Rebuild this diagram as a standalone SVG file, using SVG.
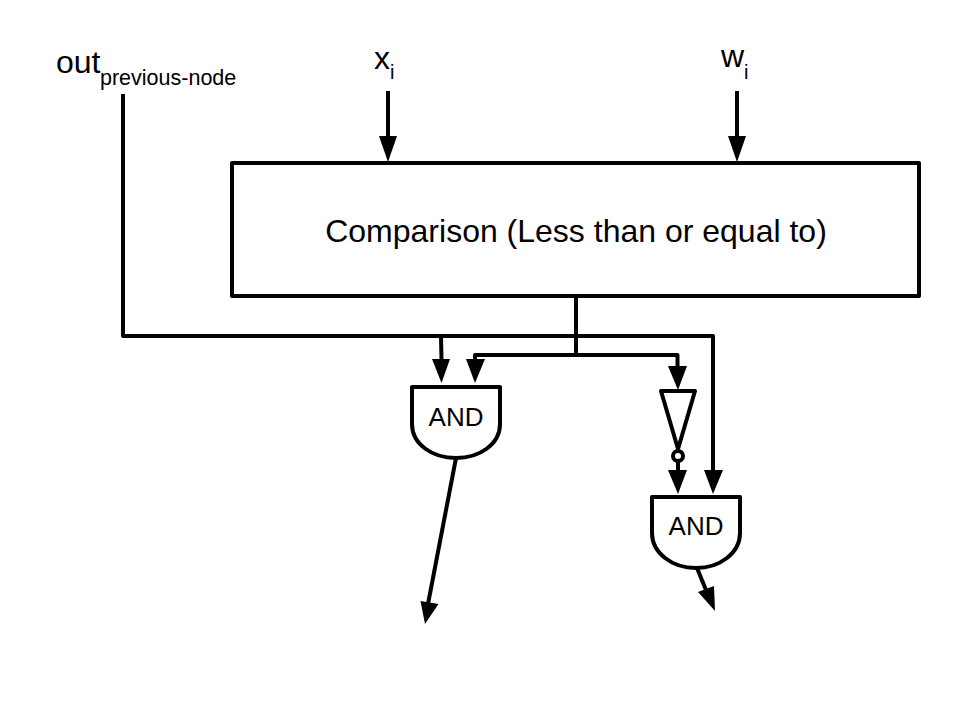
<svg xmlns="http://www.w3.org/2000/svg" width="960" height="720" viewBox="0 0 960 720">
<style>
text{font-family:"Liberation Sans",Arial,sans-serif;fill:#000}
.s{fill:none;stroke:#000;stroke-width:4;stroke-linejoin:round;stroke-linecap:butt}
.g{fill:#fff;stroke:#000;stroke-width:4;stroke-linejoin:round}
.a{fill:#000;stroke:none}
.l{font-size:32px}
.u{font-size:21.500px}
.i{font-size:20px}
.n{font-size:26px;text-anchor:middle}
</style>
<rect width="960" height="720" fill="#fff"/>
<g id="connectors">
<path class="s" d="M123 94V336H713V470"/>
<path class="s" d="M388 91V140"/>
<path class="s" d="M737 91V140"/>
<path class="s" d="M576 297V354"/>
<path class="s" d="M441 336L441.500 360"/>
<path class="s" d="M475 362V355H677.500V372"/>
<path class="s" d="M678 461V472"/>
<path class="s" d="M456 458L428 604"/>
<path class="s" d="M697 568L706 590"/>
<polygon class="a" points="379,136 397,136 388,162"/>
<polygon class="a" points="728,136 746,136 737,162"/>
<polygon class="a" points="432,359 450,359 441.500,383"/>
<polygon class="a" points="466,359 485,359 475,383"/>
<polygon class="a" points="668,366 687,366 678,390"/>
<polygon class="a" points="668,470 687,470 678,494"/>
<polygon class="a" points="704,470 723,470 713,494"/>
<polygon class="a" points="420.500,601 438.500,604 425,624"/>
<polygon class="a" points="698,592 714,586 715,611"/>
</g>
<g id="label-out"><text class="l" x="56" y="73">out</text><text class="u" x="100" y="85">previous-node</text></g>
<g id="label-x"><text class="l" x="374" y="69">x</text><text class="i" x="390" y="79">i</text></g>
<g id="label-w"><text class="l" x="721" y="67">w</text><text class="i" x="744" y="79">i</text></g>
<g id="comparison"><rect class="g" x="232" y="163" width="687" height="133"/><text class="l" x="576" y="242" text-anchor="middle">Comparison (Less than or equal to)</text></g>
<g id="and-1"><path class="g" d="M412 387H500V424C500 444 480 458 456 458C432 458 412 444 412 424Z"/><text class="n" x="456" y="426">AND</text></g>
<g id="not"><path class="g" d="M661 391H695L678 449Z"/><circle class="g" cx="678" cy="456" r="5"/></g>
<g id="and-2"><path class="g" d="M652 497H740V533C740 553 720 568 696 568C672 568 652 553 652 533Z"/><text class="n" x="696" y="535">AND</text></g>
</svg>
